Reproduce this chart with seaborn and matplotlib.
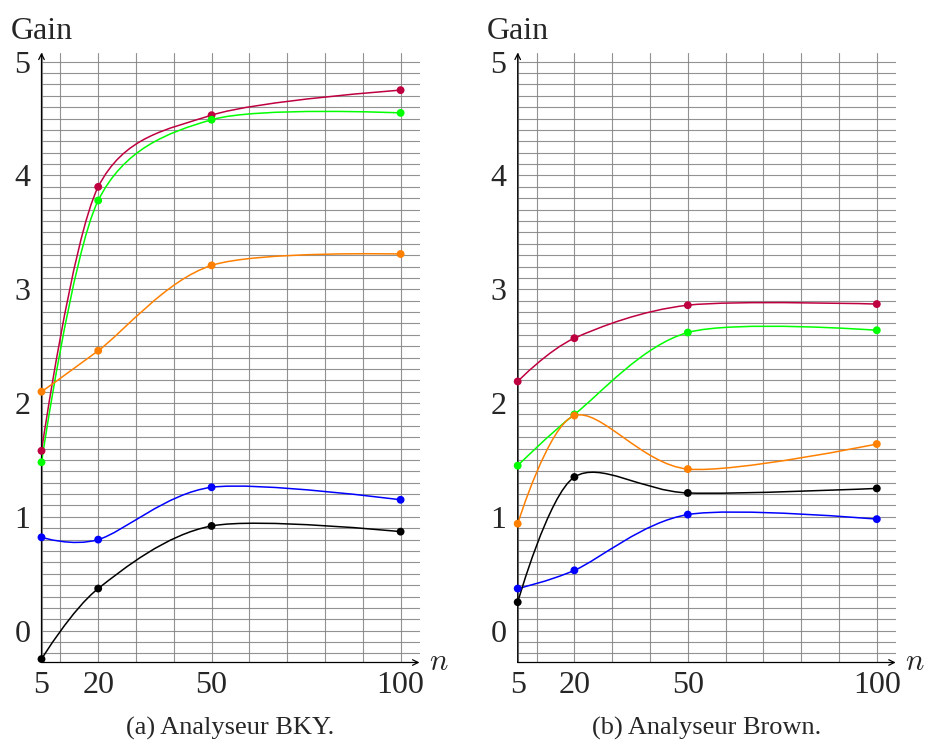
import numpy as np
import pandas as pd
import matplotlib
matplotlib.use("Agg")
import matplotlib.pyplot as plt
import matplotlib.ticker as mticker
import matplotlib.transforms as mtransforms
from matplotlib.path import Path
from matplotlib.patches import PathPatch
import seaborn as sns

sns.set_style("white")
plt.rcParams["font.family"] = ["Liberation Serif", "DejaVu Serif"]
plt.rcParams["mathtext.fontset"] = "cm"

# ---------------------------------------------------------------
# Data
# ---------------------------------------------------------------
N_VALUES = [5, 20, 50, 100]
SERIES = ["purple", "green", "orange", "blue", "black"]
COLORS = {"purple": "#BF0040", "green": "#00FF00", "orange": "#FF8000",
          "blue": "#0000FF", "black": "#000000"}

bky_purple = [1.58, 3.90, 4.53, 4.75]
bky_green  = [1.48, 3.78, 4.49, 4.55]
bky_orange = [2.10, 2.46, 3.21, 3.31]
bky_blue   = [0.82, 0.80, 1.26, 1.15]
bky_black  = [-0.25, 0.37, 0.92, 0.87]

brown_purple = [2.19, 2.57, 2.86, 2.87]
brown_green  = [1.45, 1.90, 2.62, 2.64]
brown_orange = [0.94, 1.89, 1.42, 1.64]
brown_black  = [0.25, 1.35, 1.21, 1.25]
brown_blue   = [0.37, 0.53, 1.02, 0.98]

PANELS = [
    ("(a) Analyseur BKY.", {"purple": bky_purple, "green": bky_green,
                            "orange": bky_orange, "blue": bky_blue,
                            "black": bky_black}),
    ("(b) Analyseur Brown.", {"purple": brown_purple, "green": brown_green,
                              "orange": brown_orange, "blue": brown_blue,
                              "black": brown_black}),
]

X_TICKS = [5, 20, 50, 100]
Y_TICKS = [0, 1, 2, 3, 4, 5]


def smooth_path(xs, ys, k=0.15):
    """TikZ-like 'smooth' curve: cubic Bezier segments through the points."""
    pts = np.column_stack([xs, ys]).astype(float)
    verts = [pts[0]]
    codes = [Path.MOVETO]
    n = len(pts)
    for i in range(n - 1):
        p0, p1 = pts[i], pts[i + 1]
        c1 = p0 if i == 0 else p0 + k * (pts[i + 1] - pts[i - 1])
        c2 = p1 if i == n - 2 else p1 - k * (pts[i + 2] - pts[i])
        verts += [c1, c2, p1]
        codes += [Path.CURVE4] * 3
    return Path(verts, codes)


def draw_panel(fig, rect, caption, data):
    ax = fig.add_axes(rect)
    ax.set_xlim(5, 105)
    ax.set_ylim(-0.28, 5.08)

    # grid every 10 in n, every 0.1 in gain (major + minor so none are dropped)
    ax.xaxis.set_minor_locator(mticker.MultipleLocator(10))
    ax.yaxis.set_minor_locator(mticker.MultipleLocator(0.1))
    ax.set_xticks(X_TICKS)
    ax.set_yticks(Y_TICKS)
    ax.set_xticklabels([str(v) for v in X_TICKS])
    ax.set_yticklabels([str(v) for v in Y_TICKS])
    ax.grid(which="both", color="#7f7f7f", linewidth=0.8, alpha=0.85)
    ax.tick_params(which="both", length=0, labelsize=23)
    ax.tick_params(axis="x", pad=6)
    ax.tick_params(axis="y", pad=8)
    for s in ax.spines.values():
        s.set_visible(False)

    for name in SERIES:
        ys = data[name]
        ax.add_patch(PathPatch(smooth_path(N_VALUES, ys), facecolor="none",
                               edgecolor=COLORS[name], linewidth=1.1,
                               zorder=3, clip_on=False))
        df = pd.DataFrame({"n": N_VALUES, "gain": ys})
        sns.scatterplot(data=df, x="n", y="gain", color=COLORS[name], s=32,
                        edgecolor="none", zorder=4, clip_on=False, ax=ax)
    ax.set_xlabel("")
    ax.set_ylabel("")

    # axis arrows
    ax.annotate("", xy=(1.0, 0), xytext=(0, 0), xycoords="axes fraction",
                arrowprops=dict(arrowstyle="->", color="black", lw=0.9,
                                shrinkA=0, shrinkB=0))
    ax.annotate("", xy=(0, 1.0), xytext=(0, 0), xycoords="axes fraction",
                arrowprops=dict(arrowstyle="->", color="black", lw=0.9,
                                shrinkA=0, shrinkB=0))
    ax.annotate("Gain", xy=(0, 1), xycoords="axes fraction",
                xytext=(0, 10), textcoords="offset points",
                ha="center", va="baseline", fontsize=23)
    ax.annotate("$n$", xy=(1, 0), xycoords="axes fraction",
                xytext=(7, 0), textcoords="offset points",
                ha="left", va="center", fontsize=22)
    trans = mtransforms.blended_transform_factory(ax.transAxes, fig.transFigure)
    ax.text(0.5, 1 - 735 / 742, caption, transform=trans, fontsize=19,
            ha="center", va="baseline")
    return ax


fig = plt.figure(figsize=(9.25, 7.42), dpi=100)
W, H = 925, 742
bottom = 1 - 662.5 / H
height = (662.5 - 52.6) / H
width = 378 / W
lefts = [41.5 / W, 517.7 / W]

for left, (caption, data) in zip(lefts, PANELS):
    draw_panel(fig, [left, bottom, width, height], caption, data)

fig.savefig("out.png", dpi=100)
